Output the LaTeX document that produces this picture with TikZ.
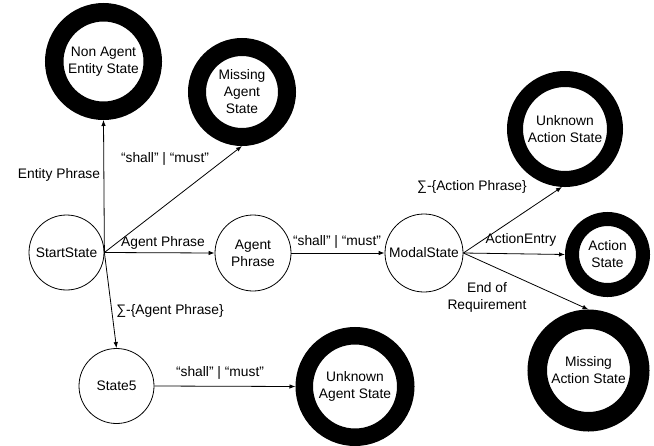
\documentclass[tikz,border=0pt]{standalone}
\usepackage{fontspec}
\setmainfont{Liberation Sans}
\usetikzlibrary{arrows.meta}
\begin{document}
\begin{tikzpicture}[x=1pt,y=-1pt,
  every node/.style={font=\fontsize{13.8}{17}\selectfont},
  stnode/.style={circle, draw, line width=0.8pt, inner sep=0pt, align=center},
  finalnode/.style={circle, draw, inner sep=0pt, align=center},
  lbl/.style={inner sep=0pt, align=center},
  arr/.style={-{Latex[length=6pt,width=4.5pt]}, line width=0.8pt}]
\useasboundingbox (0,0) rectangle (654,445);
% plain states
\node[stnode, minimum size=75pt] (start) at (66.5,252.5) {StartState};
\node[stnode, minimum size=76pt] (agent) at (253,253) {Agent\\Phrase};
\node[stnode, minimum size=75pt] (s5) at (116.5,386) {State5};
\node[stnode, minimum size=78pt] (modal) at (424,253) {ModalState};
% final states
\node[finalnode, line width=18.5pt, minimum size=98.5pt] (nonagent) at (103.5,61.5)
  {\raisebox{9.5pt}{\begin{tabular}{@{}c@{}}Non Agent\\Entity State\end{tabular}}};
\node[finalnode, line width=18pt, minimum size=90pt] (missagent) at (242,92) {Missing\\Agent\\State};
\node[finalnode, line width=16pt, minimum size=100pt] (unkaction) at (565,129) {Unknown\\Action State};
\node[finalnode, line width=14pt, minimum size=71pt] (actstate) at (607.5,254.5) {Action\\State};
\node[finalnode, line width=19.5pt, minimum size=102.5pt] (missaction) at (588.5,370.5) {Missing\\Action State};
\node[finalnode, line width=17.5pt, minimum size=101.5pt] (unkagent) at (355,386.5) {Unknown\\Agent State};
% connectors
\draw[arr] (start.east) -- (nonagent.south);
\draw[arr] (start.east) -- (missagent.south);
\draw[arr] (start.east) -- (agent.west);
\draw[arr] (start.east) -- (s5.north);
\draw[arr] (s5.east) -- (unkagent.west);
\draw[arr] (agent.east) -- (modal.west);
\draw[arr] (modal.east) -- (unkaction.267);
\draw[arr] (modal.east) -- (actstate.west);
\draw[arr] (modal.east) -- (missaction.north);
% labels
\node[lbl] (l1) at (59,175) {Entity Phrase};
\node[lbl] (l2) at (165,159) {“shall” | “must”};
\node[lbl] (l3) at (163,243) {Agent Phrase};
\node[lbl] (l4) at (170,311) {∑-\{Agent Phrase\}};
\node[lbl] (l5) at (220,373) {“shall” | “must”};
\node[lbl] (l6) at (337,242) {“shall” | “must”};
\node[lbl] (l7) at (472,187) {∑-\{Action Phrase\}};
\node[lbl] (l8) at (521,240) {ActionEntry};
\node[lbl] (l9) at (487,297) {End of\\Requirement};
\end{tikzpicture}
\end{document}
